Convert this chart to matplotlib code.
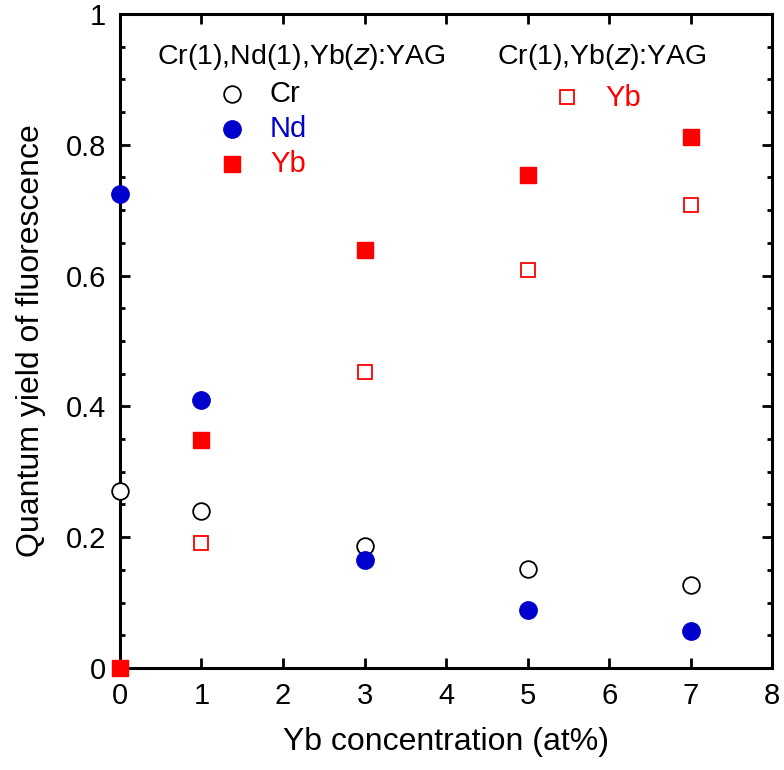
import numpy as np
import matplotlib
matplotlib.use("Agg")
import matplotlib.pyplot as plt
from matplotlib.ticker import MultipleLocator

plt.rcParams["font.family"] = ["Liberation Sans", "DejaVu Sans"]

# Cr(1),Nd(1),Yb(z):YAG
yb_conc = [0, 1, 3, 5, 7]
cr_yield = [0.271, 0.240, 0.187, 0.151, 0.127]
nd_yield = [0.725, 0.410, 0.165, 0.089, 0.057]
yb_yield = [0.0, 0.349, 0.639, 0.754, 0.812]

# Cr(1),Yb(z):YAG
yb_conc_2 = [1, 3, 5, 7]
yb_yield_2 = [0.191, 0.453, 0.609, 0.708]

BLUE = "#0000cc"
RED = "#ff0000"

fig = plt.figure(figsize=(7.84, 7.70), dpi=100)
ax = fig.add_axes([0.153, 0.1325, 0.832, 0.8495])

ax.plot(yb_conc, cr_yield, "o", ms=12, mfc="white", mec="black",
        mew=1.3, ls="none", clip_on=False, zorder=5)
ax.plot(yb_conc, nd_yield, "o", ms=12.5, color=BLUE, ls="none",
        clip_on=False, zorder=5)
ax.plot(yb_conc, yb_yield, "s", ms=11, color=RED, ls="none",
        clip_on=False, zorder=5)
ax.plot(yb_conc_2, yb_yield_2, "s", ms=10, mfc="white", mec=RED,
        mew=1.3, ls="none", clip_on=False, zorder=5)

# legend-like annotations
ax.text(2.22, 0.934, "Cr(1),Nd(1),Yb($\\it{z}$):YAG", fontsize=20.5,
        ha="center", va="center")
ax.plot([1.37], [0.878], "o", ms=12, mfc="white", mec="black", mew=1.3)
ax.text(1.84, 0.878, "Cr", fontsize=21, ha="left", va="center")
ax.plot([1.37], [0.824], "o", ms=12.5, color=BLUE)
ax.text(1.84, 0.824, "Nd", fontsize=21, ha="left", va="center", color=BLUE)
ax.plot([1.37], [0.771], "s", ms=11, color=RED)
ax.text(1.84, 0.771, "Yb", fontsize=21, ha="left", va="center", color=RED)

ax.text(5.91, 0.934, "Cr(1),Yb($\\it{z}$):YAG", fontsize=20.5,
        ha="center", va="center")
ax.plot([5.48], [0.873], "s", ms=10, mfc="white", mec=RED, mew=1.3)
ax.text(5.95, 0.871, "Yb", fontsize=21, ha="left", va="center", color=RED)

ax.set_xlim(0, 8)
ax.set_ylim(0, 1)
ax.xaxis.set_major_locator(MultipleLocator(1))
ax.yaxis.set_minor_locator(MultipleLocator(0.05))
ax.set_yticks([0, 0.2, 0.4, 0.6, 0.8, 1.0])
ax.set_yticklabels(["0", "0.2", "0.4", "0.6", "0.8", "1"])

ax.tick_params(which="both", direction="in", top=True, right=True,
               width=2, labelsize=21)
ax.tick_params(which="major", length=7.5, pad=10)
ax.tick_params(which="minor", length=3.5)
for s in ax.spines.values():
    s.set_linewidth(2.2)

ax.set_xlabel("Yb concentration (at%)", fontsize=23, labelpad=12)
ax.set_ylabel("Quantum yield of fluorescence", fontsize=23, labelpad=14)

fig.savefig("out.png", dpi=100)
